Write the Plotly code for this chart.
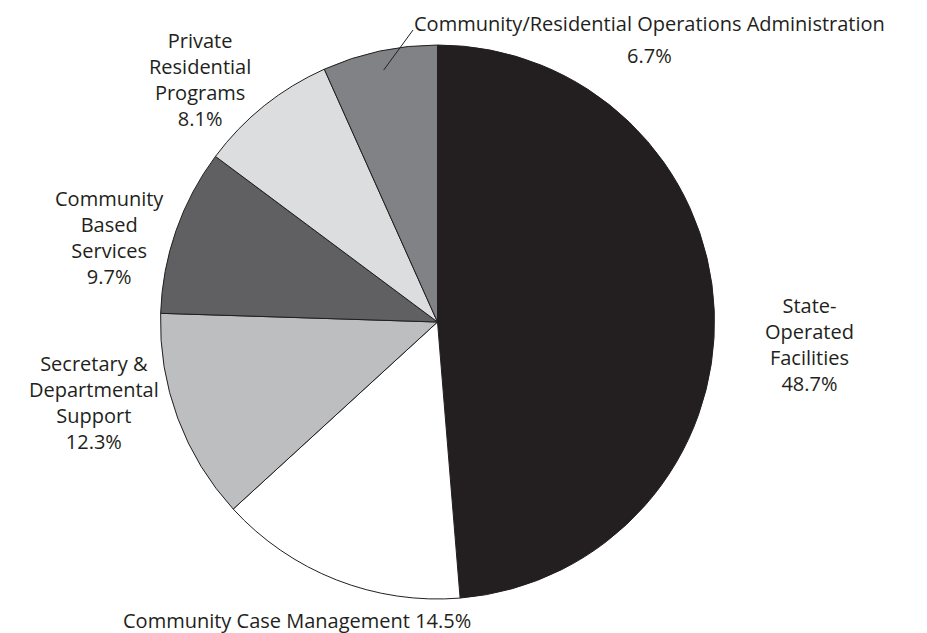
import math
import plotly.graph_objects as go

categories = [
    "State-Operated Facilities",
    "Community Case Management",
    "Secretary & Departmental Support",
    "Community Based Services",
    "Private Residential Programs",
    "Community/Residential Operations Administration",
]
values = [48.7, 14.5, 12.3, 9.7, 8.1, 6.7]
label_lines = [
    ["State-", "Operated", "Facilities"],
    ["Community Case Management"],
    ["Secretary &", "Departmental", "Support"],
    ["Community", "Based", "Services"],
    ["Private", "Residential", "Programs"],
    ["Community/Residential Operations Administration"],
]
colors = ["#231f20", "#ffffff", "#bcbec0", "#606062", "#dcdddf", "#808285"]

W, H = 927, 633
CX, CY, R = 437.5, 322.0, 277.0
TXT = "#231f20"
FONT = "Open Sans"
FS = 20


def px(x):
    return x / W


def py(y):
    return 1 - y / H


fig = go.Figure(
    go.Pie(
        labels=categories,
        values=values,
        sort=False,
        direction="clockwise",
        rotation=0,
        marker=dict(colors=colors, line=dict(color="#231f20", width=1)),
        textinfo="none",
        hoverinfo="label+percent",
        showlegend=False,
        domain=dict(
            x=[px(CX - R), px(CX + R)],
            y=[py(CY + R), py(CY - R)],
        ),
    )
)

# label block placements (center x, center y of block in pixels)
pos = [
    (809, 344, "multi"),
    (297, 620, "inline"),
    (94, 403, "multi"),
    (109, 237, "multi"),
    (200, 79, "multi"),
    (649, 24, "top"),
]


def ann(x, y, text):
    return dict(
        x=px(x), y=py(y), xref="paper", yref="paper",
        text=text, showarrow=False, align="center",
        xanchor="center", yanchor="middle",
        font=dict(family=FONT, size=FS, color=TXT),
    )


annotations = []
for cat, val, lines, (x, y, mode) in zip(categories, values, label_lines, pos):
    if mode == "inline":
        annotations.append(ann(x, y, lines[0] + " " + f"{val}%"))
    elif mode == "top":
        annotations.append(ann(x, y, lines[0]))
        annotations.append(ann(x, y + 31, f"{val}%"))
    else:
        annotations.append(ann(x, y, "<br>".join(lines + [f"{val}%"])))

# leader line for the last slice, ending inside the slice at its mid-angle
total = sum(values)
mid_frac = (total - values[-1] / 2) / total
ang = 2 * math.pi * mid_frac
ex = CX + 0.93 * R * math.sin(ang)
ey = CY - 0.93 * R * math.cos(ang)
shapes = [
    dict(
        type="line", xref="paper", yref="paper",
        x0=px(413), y0=py(30), x1=px(ex), y1=py(ey),
        line=dict(color=TXT, width=1),
    )
]

fig.update_layout(
    width=W, height=H,
    margin=dict(l=0, r=0, t=0, b=0),
    paper_bgcolor="white", plot_bgcolor="white",
    annotations=annotations, shapes=shapes,
    font=dict(family=FONT, color=TXT),
)

fig.write_html(
    "out.html",
    config={"displayModeBar": False},
    post_script="document.body.style.margin='0';document.body.style.overflow='hidden';",
)
